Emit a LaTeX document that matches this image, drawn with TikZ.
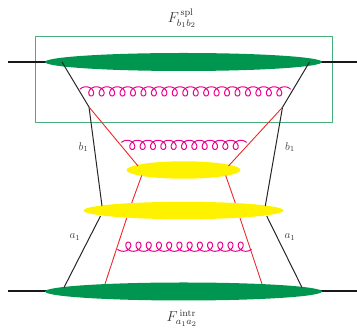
\documentclass[tikz,border=0pt]{standalone}
\definecolor{blobgreen}{RGB}{0,150,80}
\definecolor{boxgreen}{RGB}{70,175,125}
\definecolor{blobyellow}{RGB}{255,242,0}
\definecolor{gluonpink}{RGB}{236,0,140}
\definecolor{quarkred}{RGB}{237,40,40}
\tikzset{
  blobg/.style={fill=blobgreen,draw=none},
  bloby/.style={fill=blobyellow,draw=none},
  proton/.style={draw=black!90,line width=2pt},
  parton/.style={draw=black!85,line width=1pt},
  quark/.style={draw=quarkred,line width=0.9pt},
  gluon/.style={draw=gluonpink,line width=1pt},
  lab/.style={text=black!75,inner sep=0pt,font=\normalsize,scale=1.12},
  biglab/.style={text=black!80,inner sep=0pt,font=\large,scale=1.2}
}
% #1 first loop centre x, #2 axis y, #3 loops, #4 spacing, #5 +1 arcs on top / -1 arcs below, #6 end trim
\newcommand{\gluonline}[6]{%
  \pgfmathsetmacro{\gc}{#4/(2*pi)}%
  \pgfmathsetmacro{\gend}{2*pi*(#3)+(#6)}%
  \pgfmathsetmacro{\gs}{int(24*(#3)+8)}%
  \draw[gluon] plot[domain=-#6:\gend,samples=\gs,variable=\t]
    ({#1+\gc*(\t-pi)+4.8*sin(\t r)},{#2-(#5)*4.6*cos(\t r)});%
}
\begin{document}
\begin{tikzpicture}[x=1pt,y=-1pt]
\useasboundingbox (0,0) rectangle (357,328);
% vertices
\coordinate (lt) at (62,62);
\coordinate (lk) at (89,107);
\coordinate (lm) at (102,206);
\coordinate (ln) at (100.5,216);
\coordinate (lb) at (64,287.5);
\coordinate (rt) at (309.5,62);
\coordinate (rk) at (282.5,107.3);
\coordinate (rm) at (265.3,206);
\coordinate (rn) at (266.7,216);
\coordinate (rb) at (302,287.5);
\coordinate (q1) at (138,166);
\coordinate (q2) at (228.5,166);
\coordinate (q3) at (141.7,175.5);
\coordinate (q4) at (131.7,203);
\coordinate (q5) at (126.7,218);
\coordinate (q6) at (105,284);
\coordinate (q7) at (225.7,175.5);
\coordinate (q8) at (235.3,203);
\coordinate (q9) at (240,218);
\coordinate (q10) at (262,284);
\coordinate (pl1) at (8,62);
\coordinate (pl2) at (47,62);
\coordinate (pr1) at (319,62);
\coordinate (pr2) at (357,62);
\coordinate (pl3) at (8,291.5);
\coordinate (pl4) at (47,291.5);
\coordinate (pr3) at (320,291.5);
\coordinate (pr4) at (357,291.5);
% box
\draw[boxgreen,line width=1pt] (35,36.5) rectangle (332,123);
% protons
\draw[proton] (pl1) -- (pl2);
\draw[proton] (pr1) -- (pr2);
\draw[proton] (pl3) -- (pl4);
\draw[proton] (pr3) -- (pr4);
% blobs
\fill[blobg] (183.5,62) ellipse [x radius=138.5,y radius=9];
\fill[blobg] (183.5,291.5) ellipse [x radius=138.5,y radius=9];
\fill[bloby] (183.5,170) ellipse [x radius=57,y radius=8.7];
\fill[bloby] (183.5,210.5) ellipse [x radius=100,y radius=8.7];
% partons
\draw[parton] (lt) -- (lk) -- (lm);
\draw[parton] (ln) -- (lb);
\draw[parton] (rt) -- (rk) -- (rm);
\draw[parton] (rn) -- (rb);
% quarks
\draw[quark] (lk) -- (q1);
\draw[quark] (rk) -- (q2);
\draw[quark] (q3) -- (q4);
\draw[quark] (q5) -- (q6);
\draw[quark] (q7) -- (q8);
\draw[quark] (q9) -- (q10);
% gluons
\gluonline{91.2}{91.4}{19}{10.45}{1}{1.1}
\gluonline{132.3}{144.9}{11}{10.34}{1}{1.0}
\gluonline{128.3}{246.7}{12}{10.22}{-1}{1.0}
% labels
\node[biglab] (ftop) at (182,18.5) {$F^{\,\mathrm{spl}}_{b_1b_2}$};
\node[biglab] (fbot) at (182,318) {$F^{\,\mathrm{intr}}_{a_1a_2}$};
\node[lab] (bl) at (83.5,147) {$b_1$};
\node[lab] (br) at (290,147) {$b_1$};
\node[lab] (al) at (75,237) {$a_1$};
\node[lab] (ar) at (290,237) {$a_1$};
\end{tikzpicture}
\end{document}
